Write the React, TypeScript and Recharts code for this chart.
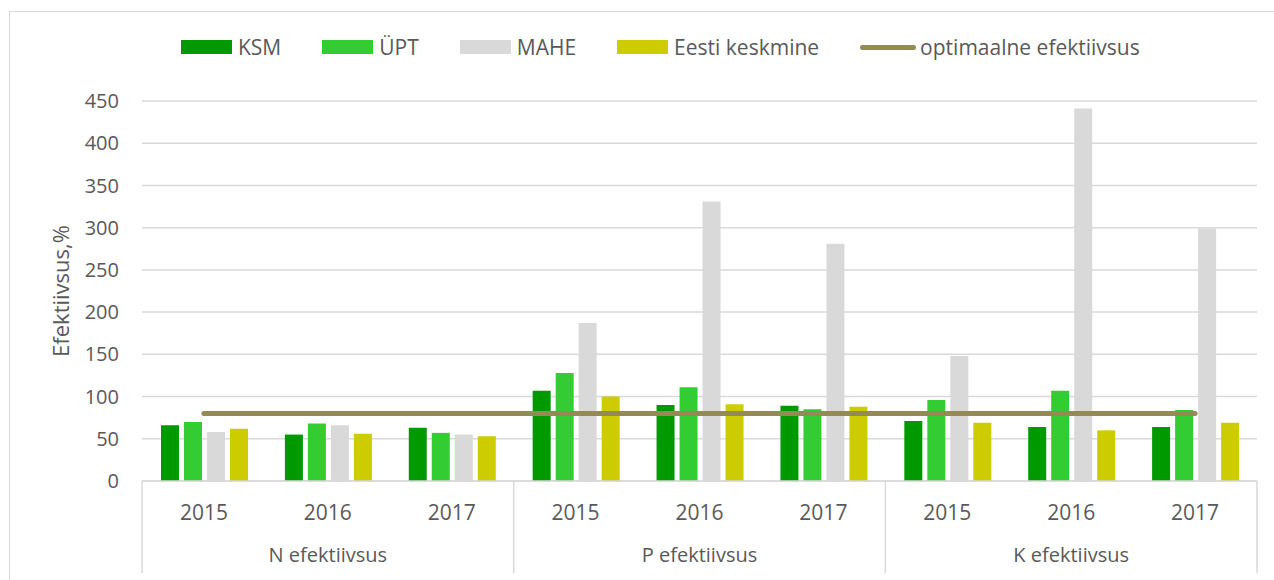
import { ComposedChart, Bar, Line, XAxis, YAxis, CartesianGrid } from 'recharts';

const groups = ['N efektiivsus', 'P efektiivsus', 'K efektiivsus'];
const years = ['2015', '2016', '2017'];
const ksm = [66, 55, 63, 107, 90, 89, 71, 64, 64];
const upt = [70, 68, 57, 128, 111, 85, 96, 107, 84];
const mahe = [58, 66, 55, 187, 331, 281, 148, 441, 299];
const eesti = [62, 56, 53, 100, 91, 88, 69, 60, 69];
const optimal = [80, 80, 80, 80, 80, 80, 80, 80, 80];
const yTicks = [0, 50, 100, 150, 200, 250, 300, 350, 400, 450];

const data = ksm.map((v, i) => ({
  key: `${groups[Math.floor(i / 3)]}-${years[i % 3]}`,
  year: years[i % 3],
  group: groups[Math.floor(i / 3)],
  ksm: v,
  upt: upt[i],
  mahe: mahe[i],
  eesti: eesti[i],
  opt: optimal[i],
}));

const TEXT = '#595959';
const GRID = '#d9d9d9';

const series = [
  { key: 'ksm', name: 'KSM', color: '#009900' },
  { key: 'upt', name: 'ÜPT', color: '#33cc33' },
  { key: 'mahe', name: 'MAHE', color: '#d9d9d9' },
  { key: 'eesti', name: 'Eesti keskmine', color: '#cccc00' },
];
const lineColor = '#948a54';

function CategoryTick(props: any) {
  const { x, y, index, payload } = props;
  const half = payload?.offset ?? 62;
  const d = data[index];
  if (!d) return null;
  const pos = index % 3;
  return (
    <g>
      <text x={x} y={y + 39} textAnchor="middle" fontSize={21} fill={TEXT}>
        {d.year}
      </text>
      {pos === 1 && (
        <text x={x} y={y + 81} textAnchor="middle" fontSize={20} fill={TEXT}>
          {d.group}
        </text>
      )}
      {pos === 0 && <line x1={x - half} x2={x - half} y1={y} y2={y + 92} stroke={GRID} strokeWidth={1.5} />}
      {index === data.length - 1 && (
        <line x1={x + half} x2={x + half} y1={y} y2={y + 92} stroke={GRID} strokeWidth={1.5} />
      )}
    </g>
  );
}

function ChartLegend() {
  return (
    <div
      style={{
        position: 'absolute',
        left: 181,
        top: 33,
        display: 'flex',
        alignItems: 'center',
        gap: 41,
        fontSize: 21,
        color: TEXT,
        whiteSpace: 'nowrap',
      }}
    >
      {series.map((s) => (
        <div key={s.key} style={{ display: 'flex', alignItems: 'center', gap: 6 }}>
          <span style={{ display: 'inline-block', width: 51, height: 14, background: s.color }} />
          <span>{s.name}</span>
        </div>
      ))}
      <div style={{ display: 'flex', alignItems: 'center', gap: 4 }}>
        <span style={{ display: 'inline-block', width: 56, height: 5, borderRadius: 3, background: lineColor }} />
        <span>optimaalne efektiivsus</span>
      </div>
    </div>
  );
}

export default function App() {
  return (
    <div
      style={{
        position: 'absolute',
        left: 0,
        top: 0,
        width: 1274,
        height: 580,
        overflow: 'hidden',
        background: '#fff',
        fontFamily: '"Open Sans", sans-serif',
      }}
    >
      <div
        style={{
          position: 'absolute',
          left: 9,
          top: 11,
          width: 1280,
          height: 620,
          border: `1.5px solid ${GRID}`,
        }}
      />
      <div style={{ position: 'absolute', left: 0, top: 0 }}>
        <ComposedChart
          width={1274}
          height={580}
          data={data}
          margin={{ top: 101, right: 17, left: 0, bottom: 0 }}
          barCategoryGap={19}
          barGap={5}
        >
          <CartesianGrid vertical={false} stroke={GRID} strokeWidth={1.5} />
          <XAxis
            dataKey="key"
            height={99}
            interval={0}
            tickLine={false}
            tickSize={0}
            tickMargin={0}
            axisLine={{ stroke: GRID, strokeWidth: 1.5 }}
            tick={<CategoryTick />}
          />
          <YAxis
            width={142}
            domain={[0, 450]}
            ticks={yTicks}
            interval={0}
            axisLine={false}
            tickLine={false}
            tickMargin={17}
            tick={{ fontSize: 20, fill: TEXT }}
            label={{ value: 'Efektiivsus,%', angle: -90, position: 'center', dx: -10, fontSize: 22, fill: TEXT }}
          />
          {series.map((s) => (
            <Bar key={s.key} dataKey={s.key} name={s.name} fill={s.color} isAnimationActive={false} />
          ))}
          <Line
            dataKey="opt"
            name="optimaalne efektiivsus"
            stroke={lineColor}
            strokeWidth={5}
            strokeLinecap="round"
            dot={false}
            activeDot={false}
            isAnimationActive={false}
          />
        </ComposedChart>
      </div>
      <ChartLegend />
    </div>
  );
}
